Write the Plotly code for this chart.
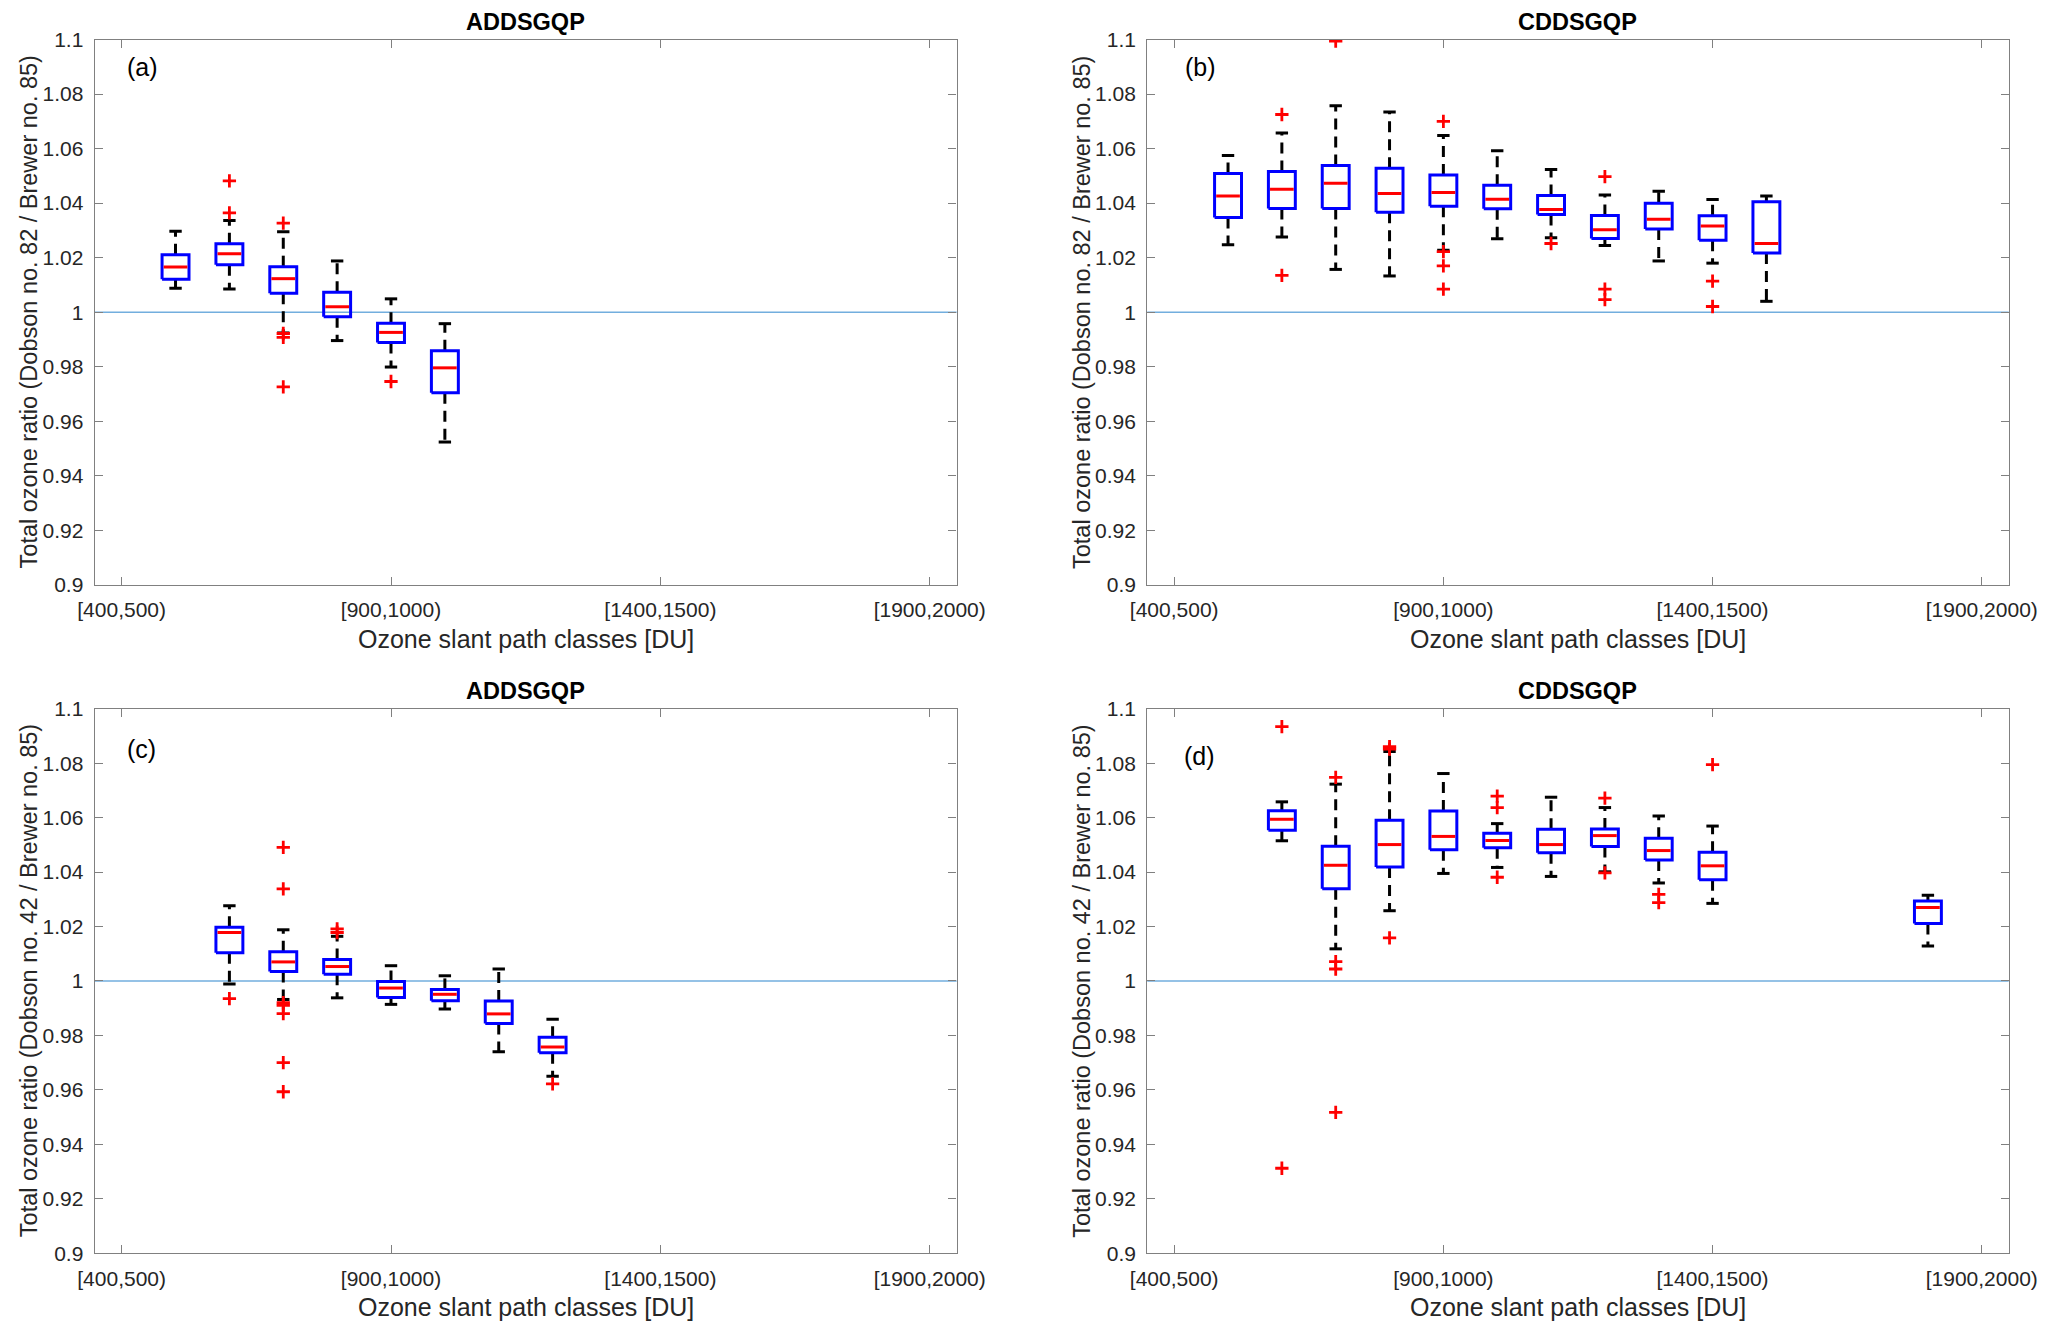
import plotly.graph_objects as go

# ---------------- data ----------------
x_tick_pos = [1, 6, 11, 16]
x_tick_labels = ["[400,500)", "[900,1000)", "[1400,1500)", "[1900,2000)"]
y_tick_vals = [0.9, 0.92, 0.94, 0.96, 0.98, 1.0, 1.02, 1.04, 1.06, 1.08, 1.1]
y_tick_labels = ["0.9", "0.92", "0.94", "0.96", "0.98", "1", "1.02", "1.04", "1.06", "1.08", "1.1"]

titles = ["ADDSGQP", "CDDSGQP", "ADDSGQP", "CDDSGQP"]
panel_labels = ["(a)", "(b)", "(c)", "(d)"]
y_titles = ["Total ozone ratio (Dobson no. 82 / Brewer no. 85)",
            "Total ozone ratio (Dobson no. 82 / Brewer no. 85)",
            "Total ozone ratio (Dobson no. 42 / Brewer no. 85)",
            "Total ozone ratio (Dobson no. 42 / Brewer no. 85)"]
x_title = "Ozone slant path classes [DU]"

# panel (a)
a_pos = [2, 3, 4, 5, 6, 7]
a_lo  = [1.0088, 1.0085, 0.9924, 0.9896, 0.9799, 0.9524]
a_q1  = [1.0121, 1.0174, 1.0070, 0.9983, 0.9889, 0.9705]
a_med = [1.0166, 1.0214, 1.0123, 1.0020, 0.9926, 0.9796]
a_q3  = [1.0211, 1.0251, 1.0167, 1.0073, 0.9960, 0.9859]
a_hi  = [1.0297, 1.0336, 1.0295, 1.0188, 1.0049, 0.9958]
a_out_x = [3, 3, 4, 4, 4, 4, 6]
a_out_y = [1.0482, 1.0364, 1.0327, 0.9922, 0.9908, 0.9726, 0.9746]

# panel (b)
b_pos = [2, 3, 4, 5, 6, 7, 8, 9, 10, 11, 12]
b_lo  = [1.0247, 1.0276, 1.0157, 1.0133, 1.0227, 1.0269, 1.0273, 1.0245, 1.0188, 1.0180, 1.0040]
b_q1  = [1.0347, 1.0380, 1.0380, 1.0367, 1.0389, 1.0379, 1.0358, 1.0270, 1.0305, 1.0264, 1.0217]
b_med = [1.0426, 1.0451, 1.0473, 1.0435, 1.0439, 1.0414, 1.0377, 1.0302, 1.0341, 1.0316, 1.0252]
b_q3  = [1.0509, 1.0516, 1.0538, 1.0528, 1.0503, 1.0466, 1.0428, 1.0355, 1.0400, 1.0354, 1.0405]
b_hi  = [1.0575, 1.0657, 1.0757, 1.0734, 1.0648, 1.0592, 1.0523, 1.0430, 1.0444, 1.0413, 1.0426]
b_out_x = [3, 3, 4, 6, 6, 6, 6, 8, 9, 9, 9, 11, 11]
b_out_y = [1.0725, 1.0135, 1.0994, 1.0700, 1.0222, 1.0170, 1.0085, 1.0252,
           1.0497, 1.0085, 1.0046, 1.0114, 1.0021]

# panel (c)
c_pos = [3, 4, 5, 6, 7, 8, 9]
c_lo  = [0.9989, 0.9932, 0.9938, 0.9914, 0.9897, 0.9740, 0.9650]
c_q1  = [1.0104, 1.0035, 1.0025, 0.9939, 0.9927, 0.9844, 0.9736]
c_med = [1.0178, 1.0070, 1.0053, 0.9974, 0.9951, 0.9879, 0.9757]
c_q3  = [1.0197, 1.0107, 1.0079, 0.9998, 0.9969, 0.9926, 0.9793]
c_hi  = [1.0276, 1.0188, 1.0164, 1.0056, 1.0019, 1.0044, 0.9859]
c_out_x = [3, 4, 4, 4, 4, 4, 4, 4, 5, 5, 9]
c_out_y = [0.9935, 1.0491, 1.0338, 0.9920, 0.9910, 0.9880, 0.9700, 0.9593,
           1.0191, 1.0178, 0.9622]

# panel (d)
d_pos = [3, 4, 5, 6, 7, 8, 9, 10, 11, 15]
d_lo  = [1.0515, 1.0118, 1.0258, 1.0395, 1.0417, 1.0384, 1.0401, 1.0360, 1.0285, 1.0128]
d_q1  = [1.0554, 1.0339, 1.0419, 1.0482, 1.0489, 1.0471, 1.0494, 1.0444, 1.0372, 1.0211]
d_med = [1.0594, 1.0425, 1.0501, 1.0531, 1.0516, 1.0501, 1.0534, 1.0479, 1.0423, 1.0270]
d_q3  = [1.0625, 1.0495, 1.0590, 1.0624, 1.0543, 1.0557, 1.0558, 1.0524, 1.0473, 1.0294]
d_hi  = [1.0658, 1.0723, 1.0843, 1.0762, 1.0578, 1.0675, 1.0637, 1.0606, 1.0569, 1.0315]
d_out_x = [3, 3, 4, 4, 4, 4, 5, 5, 5, 7, 7, 7, 9, 9, 10, 10, 11]
d_out_y = [1.0934, 0.9312, 1.0748, 1.0071, 1.0044, 0.9517, 1.0861, 1.0852, 1.0158,
           1.0679, 1.0637, 1.0381, 1.0672, 1.0397, 1.0318, 1.0288, 1.0795]

label_y = [1.0901, 1.0901, 1.0853, 1.0828]
label_x = [1.07, 1.16, 1.07, 1.15]

# ---------------- style ----------------
W, H = 2067, 1331
FONT = "Liberation Sans, Arial, Helvetica, sans-serif"
BOX_W = 0.5
CAP_W = 0.23
LW = 3
AX_COL = "#808080"
TXT_COL = "#262626"

x_dom = [[79.5 / W, 961 / W], [1156 / W, 2037 / W]]
y_dom = [[1 - 583 / H, 1 - 28 / H], [1 - 1263 / H, 1 - 709 / H]]

panels = [
    (a_pos, a_lo, a_q1, a_med, a_q3, a_hi, a_out_x, a_out_y),
    (b_pos, b_lo, b_q1, b_med, b_q3, b_hi, b_out_x, b_out_y),
    (c_pos, c_lo, c_q1, c_med, c_q3, c_hi, c_out_x, c_out_y),
    (d_pos, d_lo, d_q1, d_med, d_q3, d_hi, d_out_x, d_out_y),
]

fig = go.Figure()
layout = dict(width=W, height=H, margin=dict(l=0, r=0, t=0, b=0),
              paper_bgcolor="white", plot_bgcolor="white", showlegend=False,
              font=dict(family=FONT, color=TXT_COL))
annotations = []
shapes = []

for i, (pos, lo, q1, med, q3, hi, ox, oy) in enumerate(panels):
    k = i + 1
    xa = "x" if k == 1 else f"x{k}"
    ya = "y" if k == 1 else f"y{k}"
    col = i % 2
    row = i // 2

    # dashed whiskers
    wx, wy = [], []
    for p, l_, a_, b_, h_ in zip(pos, lo, q1, q3, hi):
        wx += [p, p, None, p, p, None]
        wy += [b_, h_, None, a_, l_, None]
    fig.add_trace(go.Scatter(x=wx, y=wy, mode="lines", xaxis=xa, yaxis=ya,
                             line=dict(color="black", width=LW, dash="11px,7px"),
                             hoverinfo="skip"))
    # whisker caps
    cx, cy = [], []
    for p, l_, h_ in zip(pos, lo, hi):
        cx += [p - CAP_W / 2, p + CAP_W / 2, None, p - CAP_W / 2, p + CAP_W / 2, None]
        cy += [h_, h_, None, l_, l_, None]
    fig.add_trace(go.Scatter(x=cx, y=cy, mode="lines", xaxis=xa, yaxis=ya,
                             line=dict(color="black", width=LW), hoverinfo="skip"))
    # boxes
    bx, by = [], []
    for p, a_, b_ in zip(pos, q1, q3):
        bx += [p - BOX_W / 2, p + BOX_W / 2, p + BOX_W / 2, p - BOX_W / 2, p - BOX_W / 2, None]
        by += [a_, a_, b_, b_, a_, None]
    fig.add_trace(go.Scatter(x=bx, y=by, mode="lines", xaxis=xa, yaxis=ya,
                             line=dict(color="#0000ff", width=LW), hoverinfo="skip"))
    # medians
    mx, my = [], []
    for p, m_ in zip(pos, med):
        mx += [p - BOX_W / 2 + 0.03, p + BOX_W / 2 - 0.03, None]
        my += [m_, m_, None]
    fig.add_trace(go.Scatter(x=mx, y=my, mode="lines", xaxis=xa, yaxis=ya,
                             line=dict(color="#ff0000", width=LW), hoverinfo="skip"))
    # outliers
    fig.add_trace(go.Scatter(x=ox, y=oy, mode="markers", xaxis=xa, yaxis=ya,
                             marker=dict(symbol="cross-thin", size=9.5,
                                         line=dict(color="#ff0000", width=2.8)),
                             hoverinfo="skip"))

    axis_common = dict(showgrid=False, zeroline=False, showline=True,
                       linecolor=AX_COL, linewidth=1.3, mirror="ticks",
                       ticks="inside", ticklen=8, tickwidth=1.2, tickcolor=AX_COL,
                       tickfont=dict(family=FONT, size=21, color=TXT_COL))
    layout["xaxis" if k == 1 else f"xaxis{k}"] = dict(
        domain=x_dom[col], anchor=ya, range=[0.5, 16.5],
        tickmode="array", tickvals=x_tick_pos, ticktext=x_tick_labels,
        ticklabelstandoff=6, **axis_common)
    layout["yaxis" if k == 1 else f"yaxis{k}"] = dict(
        domain=y_dom[row], anchor=xa, range=[0.9, 1.1],
        tickmode="array", tickvals=y_tick_vals, ticktext=y_tick_labels,
        ticklabelstandoff=6, **axis_common)

    # reference line at ratio = 1
    shapes.append(dict(type="line", xref=f"{xa} domain", yref=ya, x0=0, x1=1,
                       y0=1, y1=1, line=dict(color="#72aede", width=1.6),
                       layer="below"))

    xc = (x_dom[col][0] + x_dom[col][1]) / 2
    yc = (y_dom[row][0] + y_dom[row][1]) / 2
    annotations.append(dict(text=f"<b>{titles[i]}</b>", xref="paper", yref="paper",
                            x=xc, y=y_dom[row][1] + 18 / H, xanchor="center",
                            yanchor="middle", showarrow=False,
                            font=dict(family=FONT, size=23.5, color="black")))
    annotations.append(dict(text=x_title, xref="paper", yref="paper",
                            x=xc, y=y_dom[row][0] - 55 / H, xanchor="center",
                            yanchor="middle", showarrow=False,
                            font=dict(family=FONT, size=25, color=TXT_COL)))
    annotations.append(dict(text=y_titles[i], xref="paper", yref="paper",
                            x=x_dom[col][0] - 67 / W, y=yc, xanchor="center",
                            yanchor="middle", textangle=-90, showarrow=False,
                            font=dict(family=FONT, size=23.5, color=TXT_COL)))
    annotations.append(dict(text=panel_labels[i], xref=xa, yref=ya,
                            x=label_x[i], y=label_y[i], xanchor="left",
                            yanchor="middle", showarrow=False,
                            font=dict(family=FONT, size=25, color="black")))

layout["annotations"] = annotations
layout["shapes"] = shapes
fig.update_layout(**layout)

fix_js = "document.body.style.margin='0';document.body.style.overflow='hidden';"
fig.write_html("out.html", config={"displayModeBar": False}, post_script=fix_js)
